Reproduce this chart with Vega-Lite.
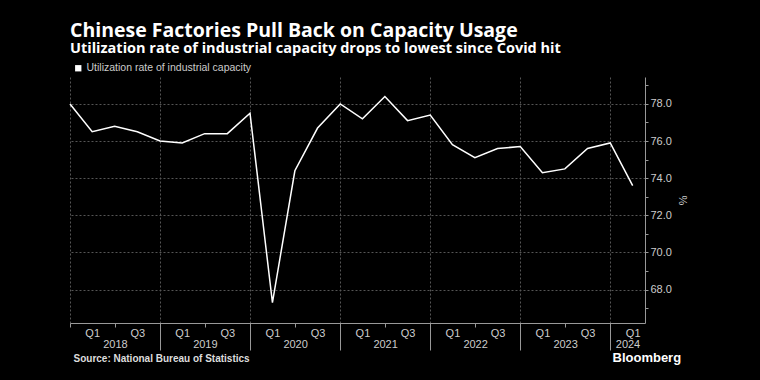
{
  "$schema": "https://vega.github.io/schema/vega-lite/v6.json",
  "width": 575,
  "height": 246,
  "autosize": {"type": "none"},
  "padding": {"left": 70, "top": 77, "right": 115, "bottom": 57},
  "background": "#000000",
  "config": {"view": {"stroke": null}, "font": "Liberation Sans"},
  "title": {
    "text": "Chinese Factories Pull Back on Capacity Usage",
    "subtitle": "Utilization rate of industrial capacity drops to lowest since Covid hit",
    "anchor": "start",
    "frame": "group",
    "font": "Open Sans",
    "subtitleFont": "Open Sans",
    "color": "#ffffff",
    "fontSize": 19.5,
    "fontWeight": "bold",
    "subtitleColor": "#ffffff",
    "subtitleFontSize": 14.5,
    "subtitleFontWeight": "bold",
    "subtitlePadding": 0,
    "offset": 7
  },
  "data": {
    "values": [
      {"date": "2017-12-31", "value": 78.0, "series": "Utilization rate of industrial capacity"},
      {"date": "2018-03-31", "value": 76.5, "series": "Utilization rate of industrial capacity"},
      {"date": "2018-06-30", "value": 76.8, "series": "Utilization rate of industrial capacity"},
      {"date": "2018-09-30", "value": 76.5, "series": "Utilization rate of industrial capacity"},
      {"date": "2018-12-31", "value": 76.0, "series": "Utilization rate of industrial capacity"},
      {"date": "2019-03-31", "value": 75.9, "series": "Utilization rate of industrial capacity"},
      {"date": "2019-06-30", "value": 76.4, "series": "Utilization rate of industrial capacity"},
      {"date": "2019-09-30", "value": 76.4, "series": "Utilization rate of industrial capacity"},
      {"date": "2019-12-31", "value": 77.5, "series": "Utilization rate of industrial capacity"},
      {"date": "2020-03-31", "value": 67.3, "series": "Utilization rate of industrial capacity"},
      {"date": "2020-06-30", "value": 74.4, "series": "Utilization rate of industrial capacity"},
      {"date": "2020-09-30", "value": 76.7, "series": "Utilization rate of industrial capacity"},
      {"date": "2020-12-31", "value": 78.0, "series": "Utilization rate of industrial capacity"},
      {"date": "2021-03-31", "value": 77.2, "series": "Utilization rate of industrial capacity"},
      {"date": "2021-06-30", "value": 78.4, "series": "Utilization rate of industrial capacity"},
      {"date": "2021-09-30", "value": 77.1, "series": "Utilization rate of industrial capacity"},
      {"date": "2021-12-31", "value": 77.4, "series": "Utilization rate of industrial capacity"},
      {"date": "2022-03-31", "value": 75.8, "series": "Utilization rate of industrial capacity"},
      {"date": "2022-06-30", "value": 75.1, "series": "Utilization rate of industrial capacity"},
      {"date": "2022-09-30", "value": 75.6, "series": "Utilization rate of industrial capacity"},
      {"date": "2022-12-31", "value": 75.7, "series": "Utilization rate of industrial capacity"},
      {"date": "2023-03-31", "value": 74.3, "series": "Utilization rate of industrial capacity"},
      {"date": "2023-06-30", "value": 74.5, "series": "Utilization rate of industrial capacity"},
      {"date": "2023-09-30", "value": 75.6, "series": "Utilization rate of industrial capacity"},
      {"date": "2023-12-31", "value": 75.9, "series": "Utilization rate of industrial capacity"},
      {"date": "2024-03-31", "value": 73.6, "series": "Utilization rate of industrial capacity"}
    ],
    "format": {"parse": {"date": "date:'%Y-%m-%d'"}}
  },
  "layer": [
    {
      "mark": {"type": "line", "strokeWidth": 1.5},
      "encoding": {
        "x": {
          "field": "date",
          "type": "temporal",
          "scale": {"domain": [{"year": 2017, "month": 12, "date": 31}, {"year": 2024, "month": 5, "date": 20}]},
          "axis": {
            "orient": "bottom",
            "values": [
              {"year": 2017, "month": 12, "date": 31},
              {"year": 2018, "month": 3, "date": 31}, {"year": 2018, "month": 6, "date": 30}, {"year": 2018, "month": 9, "date": 30}, {"year": 2018, "month": 12, "date": 31},
              {"year": 2019, "month": 3, "date": 31}, {"year": 2019, "month": 6, "date": 30}, {"year": 2019, "month": 9, "date": 30}, {"year": 2019, "month": 12, "date": 31},
              {"year": 2020, "month": 3, "date": 31}, {"year": 2020, "month": 6, "date": 30}, {"year": 2020, "month": 9, "date": 30}, {"year": 2020, "month": 12, "date": 31},
              {"year": 2021, "month": 3, "date": 31}, {"year": 2021, "month": 6, "date": 30}, {"year": 2021, "month": 9, "date": 30}, {"year": 2021, "month": 12, "date": 31},
              {"year": 2022, "month": 3, "date": 31}, {"year": 2022, "month": 6, "date": 30}, {"year": 2022, "month": 9, "date": 30}, {"year": 2022, "month": 12, "date": 31},
              {"year": 2023, "month": 3, "date": 31}, {"year": 2023, "month": 6, "date": 30}, {"year": 2023, "month": 9, "date": 30}, {"year": 2023, "month": 12, "date": 31},
              {"year": 2024, "month": 3, "date": 31}
            ],
            "labelExpr": "month(datum.value) == 2 ? 'Q1' : (month(datum.value) == 8 ? 'Q3' : '')",
            "labelColor": "#cccccc",
            "labelFontSize": 11,
            "labelPadding": 0,
            "labelFlush": false,
            "labelOverlap": false,
            "tickSize": 4,
            "tickColor": "#999999",
            "tickOpacity": {"condition": {"test": "month(datum.value) == 2 || month(datum.value) == 8", "value": 0}, "value": 1},
            "domainColor": "#999999",
            "grid": true,
            "gridColor": "#555555",
            "gridDash": [2, 2],
            "gridOpacity": {"condition": {"test": "month(datum.value) == 11", "value": 1}, "value": 0},
            "title": null
          }
        },
        "y": {
          "field": "value",
          "type": "quantitative",
          "scale": {"domain": [66.2, 79.45], "nice": false, "zero": false},
          "axis": {
            "orient": "right",
            "values": [67, 68, 69, 70, 71, 72, 73, 74, 75, 76, 77, 78, 79],
            "labelExpr": "datum.value % 2 == 0 ? format(datum.value, '.1f') : ''",
            "labelColor": "#cccccc",
            "labelFontSize": 11,
            "labelPadding": 2,
            "tickSize": 3,
            "tickColor": "#999999",
            "domainColor": "#999999",
            "grid": true,
            "gridColor": "#555555",
            "gridDash": [2, 2],
            "gridOpacity": {"condition": {"test": "datum.value % 2 == 0", "value": 1}, "value": 0},
            "title": "%",
            "titleColor": "#cccccc",
            "titleFontSize": 11,
            "titleFontWeight": "normal",
            "titlePadding": 5
          }
        },
        "color": {
          "field": "series",
          "type": "nominal",
          "scale": {"range": ["#ffffff"]},
          "legend": {
            "orient": "none",
            "legendX": 3,
            "legendY": -14,
            "title": null,
            "symbolType": "square",
            "symbolSize": 40,
            "symbolFillColor": "#ffffff",
            "symbolStrokeColor": "#ffffff",
            "symbolStrokeWidth": 0,
            "labelColor": "#cccccc",
            "labelFontSize": 10.5,
            "labelLimit": 400,
            "labelOffset": 3
          }
        }
      }
    },
    {
      "mark": {"type": "point", "opacity": 0},
      "encoding": {
        "x": {
          "field": "date",
          "type": "temporal",
          "axis": {
            "orient": "bottom",
            "values": [
              {"year": 2018, "month": 12, "date": 31},
              {"year": 2019, "month": 12, "date": 31},
              {"year": 2020, "month": 12, "date": 31},
              {"year": 2021, "month": 12, "date": 31},
              {"year": 2022, "month": 12, "date": 31},
              {"year": 2023, "month": 12, "date": 31}
            ],
            "labels": false,
            "domain": false,
            "grid": false,
            "tickSize": 27,
            "tickColor": "#999999",
            "title": "Source: National Bureau of Statistics",
            "titleX": 3,
            "titleY": 35,
            "titleAlign": "left",
            "titleBaseline": "middle",
            "titleFontSize": 10,
            "titleFontWeight": "bold",
            "titleColor": "#dddddd"
          }
        }
      }
    },
    {
      "mark": {"type": "point", "opacity": 0},
      "encoding": {
        "x": {
          "field": "date",
          "type": "temporal",
          "axis": {
            "orient": "bottom",
            "values": [
              {"year": 2018, "month": 7, "date": 1},
              {"year": 2019, "month": 7, "date": 1},
              {"year": 2020, "month": 7, "date": 1},
              {"year": 2021, "month": 7, "date": 1},
              {"year": 2022, "month": 7, "date": 1},
              {"year": 2023, "month": 7, "date": 1},
              {"year": 2024, "month": 3, "date": 10}
            ],
            "labelExpr": "year(datum.value)",
            "labelColor": "#cccccc",
            "labelFontSize": 11,
            "labelPadding": 15,
            "labelFlush": false,
            "labelOverlap": false,
            "ticks": false,
            "tickSize": 0,
            "domain": false,
            "grid": false,
            "title": "Bloomberg",
            "titleX": 542,
            "titleY": 34,
            "titleAlign": "left",
            "titleBaseline": "middle",
            "titleFontSize": 13,
            "titleFontWeight": "bold",
            "titleColor": "#ffffff"
          }
        }
      }
    }
  ],
  "resolve": {"axis": {"x": "independent"}}
}
